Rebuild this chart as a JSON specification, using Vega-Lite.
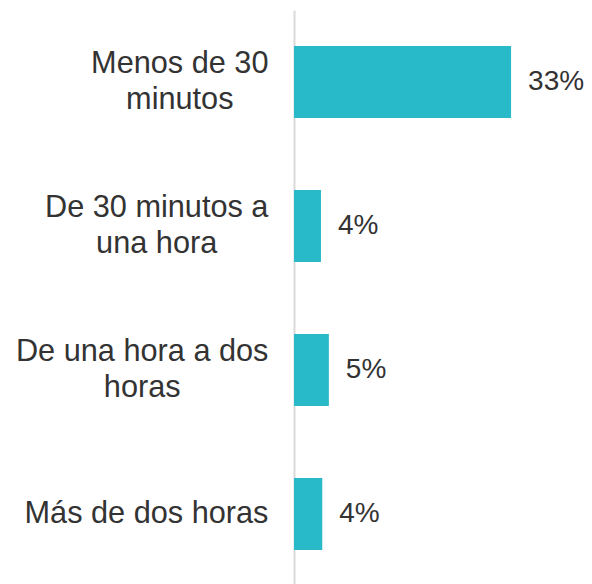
{
  "$schema": "https://vega.github.io/schema/vega-lite/v6.json",
  "autosize": "none",
  "width": 296,
  "height": 576,
  "padding": {"left": 294, "top": 10, "right": 2, "bottom": 0},
  "background": "white",
  "config": {"view": {"stroke": null}, "font": "Liberation Sans"},
  "data": {
    "values": [
      {"categoria": "Menos de 30 minutos", "valor": 0.33},
      {"categoria": "De 30 minutos a una hora", "valor": 0.041},
      {"categoria": "De una hora a dos horas", "valor": 0.053},
      {"categoria": "Más de dos horas", "valor": 0.043}
    ]
  },
  "encoding": {
    "y": {
      "field": "categoria",
      "type": "nominal",
      "sort": null,
      "title": null,
      "scale": {"paddingInner": 0.5, "paddingOuter": 0.25},
      "axis": {
        "ticks": false,
        "domainColor": "#d9d9d9",
        "domainWidth": 2,
        "labelFontSize": 30.7,
        "labelColor": "#333333",
        "labelAlign": "center",
        "labelPadding": {
          "condition": [
            {"test": "datum.value == 'Menos de 30 minutos'", "value": 114.7},
            {"test": "datum.value == 'De 30 minutos a una hora'", "value": 137.8},
            {"test": "datum.value == 'De una hora a dos horas'", "value": 152.3}
          ],
          "value": 148
        },
        "labelOffset": {
          "condition": {"test": "datum.value == 'Más de dos horas'", "value": 0},
          "value": -18
        },
        "labelLimit": 400,
        "labelLineHeight": 36,
        "labelFont": "Liberation Sans",
        "labelExpr": "datum.value == 'Menos de 30 minutos' ? ['Menos de 30', 'minutos'] : datum.value == 'De 30 minutos a una hora' ? ['De 30 minutos a', 'una hora'] : datum.value == 'De una hora a dos horas' ? ['De una hora a dos', 'horas'] : datum.value"
      }
    },
    "x": {
      "field": "valor",
      "type": "quantitative",
      "scale": {"domain": [0, 0.45]},
      "axis": null
    }
  },
  "layer": [
    {"mark": {"type": "bar", "color": "#29BAC9"}},
    {
      "mark": {"type": "text", "align": "left", "baseline": "middle", "dx": 17, "fontSize": 28, "color": "#333333", "font": "Liberation Sans"},
      "encoding": {"text": {"field": "valor", "type": "quantitative", "format": ".0%"}}
    }
  ]
}
